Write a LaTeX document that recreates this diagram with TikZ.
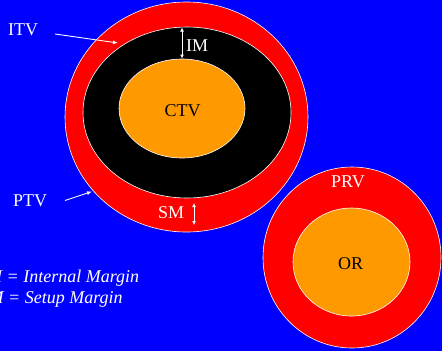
\documentclass[tikz,border=0pt]{standalone}
\usepackage{fontspec}
\setmainfont{Liberation Serif}
\usetikzlibrary{arrows.meta}
\definecolor{bgblue}{RGB}{0,0,255}
\definecolor{volred}{RGB}{255,0,0}
\definecolor{volorange}{RGB}{255,153,0}
\tikzset{
  vol/.style={draw=white, line width=0.6bp},
  lbl/.style={inner sep=0pt, anchor=base west, text=white,
    font=\fontsize{18bp}{21bp}\selectfont},
  darklbl/.style={lbl, text=black},
  legend/.style={lbl, font=\fontsize{18bp}{21bp}\selectfont\itshape},
  pointer/.style={draw=white, line width=0.9bp, -{Latex[length=5bp,width=4bp]}},
  margin/.style={draw=white, line width=0.9bp, {Latex[length=4bp,width=4bp]}-{Latex[length=4bp,width=4bp]}}
}
\begin{document}
\begin{tikzpicture}[x=1bp, y=-1bp]
  \useasboundingbox (0,0) rectangle (442,351);
  \clip (0,0) rectangle (442,351);
  \fill[bgblue] (0,0) rectangle (442,351);

  % target volumes: PTV, ITV, CTV
  \draw[vol, fill=volred]    (186.5,117) ellipse [x radius=121.5bp, y radius=115bp];
  \draw[vol, fill=black]     (187,112.5) ellipse [x radius=104bp, y radius=85.5bp];
  \draw[vol, fill=volorange] (182,108.5) ellipse [x radius=63bp, y radius=49.5bp];

  % organ at risk and its planning volume
  \draw[vol, fill=volred]    (352,257.5) ellipse [x radius=89bp, y radius=90.5bp];
  \draw[vol, fill=volorange] (351.5,262) ellipse [x radius=58.5bp, y radius=54bp];

  % labels
  \node[lbl]     (itv) at (8,35)    {ITV};
  \node[lbl]     (im)  at (186,51)  {IM};
  \node[darklbl] (ctv) at (182,116) {\makebox[0pt]{CTV}};
  \node[lbl]     (ptv) at (13,206)  {PTV};
  \node[lbl]     (sm)  at (158,218) {SM};
  \node[lbl]     (prv) at (331,187) {PRV};
  \node[darklbl] (or)  at (338,269) {OR};

  % pointers to the contours
  \coordinate (itvtip) at (118,43);
  \coordinate (itvtail) at (55,34);
  \coordinate (ptvtip) at (92,191.5);
  \coordinate (ptvtail) at (65,200.5);
  \draw[pointer] (itvtail) -- (itvtip);
  \draw[pointer] (ptvtail) -- (ptvtip);

  % margin widths
  \coordinate (imtop) at (182,27.5);
  \coordinate (imbot) at (182,58.5);
  \coordinate (smtop) at (194,203);
  \coordinate (smbot) at (194,225);
  \draw[margin] (imtop) -- (imbot);
  \draw[margin] (smtop) -- (smbot);

  % legend
  \node[legend] (leg1) at (-19,282)   {IM = Internal Margin};
  \node[legend] (leg2) at (-20.5,303) {SM = Setup Margin};
\end{tikzpicture}
\end{document}
